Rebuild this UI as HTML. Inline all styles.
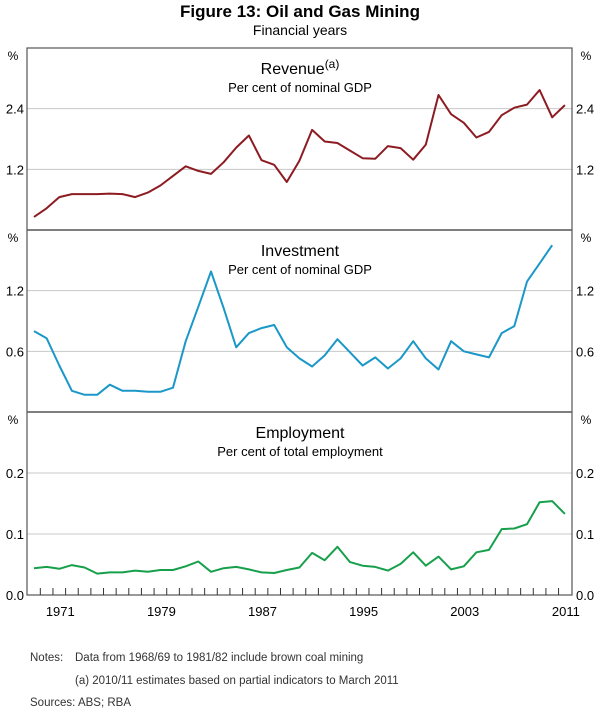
<!DOCTYPE html>
<html><head><meta charset="utf-8"><style>
body{margin:0;background:#fff;}
svg text{font-family:"Liberation Sans",sans-serif;}
</style></head><body>
<svg width="600" height="709" xmlns="http://www.w3.org/2000/svg">
<text x="300" y="17" text-anchor="middle" font-size="17" font-weight="bold">Figure 13: Oil and Gas Mining</text>
<text x="300" y="35" text-anchor="middle" font-size="14">Financial years</text>
<g id="plot"></g>
<text x="30" y="661" font-size="11.5" fill="#333">Notes:</text>
<text x="75" y="661" font-size="11.5" fill="#333">Data from 1968/69 to 1981/82 include brown coal mining</text>
<text x="75" y="684" font-size="11.5" fill="#333">(a) 2010/11 estimates based on partial indicators to March 2011</text>
<text x="30" y="706" font-size="11.5" fill="#333">Sources:  ABS; RBA</text>
</svg>
<script>
const revenue=[0.26,0.43,0.65,0.71,0.71,0.71,0.72,0.71,0.65,0.74,0.88,1.07,1.26,1.17,1.11,1.34,1.63,1.87,1.38,1.29,0.95,1.37,1.98,1.75,1.72,1.57,1.42,1.41,1.66,1.62,1.39,1.69,2.67,2.29,2.12,1.83,1.94,2.27,2.42,2.48,2.77,2.23,2.47];
const investment=[0.80,0.73,0.46,0.21,0.17,0.17,0.27,0.21,0.21,0.20,0.20,0.24,0.70,1.04,1.39,1.03,0.64,0.78,0.83,0.86,0.64,0.53,0.45,0.56,0.72,0.59,0.46,0.54,0.43,0.53,0.70,0.53,0.42,0.70,0.60,0.57,0.54,0.78,0.85,1.29,1.47,1.65];
const employment=[0.044,0.046,0.043,0.049,0.045,0.035,0.037,0.037,0.040,0.038,0.041,0.041,0.047,0.055,0.038,0.044,0.046,0.042,0.037,0.036,0.041,0.045,0.069,0.057,0.079,0.054,0.048,0.046,0.040,0.051,0.070,0.048,0.063,0.042,0.047,0.070,0.074,0.108,0.109,0.116,0.152,0.154,0.133];
const startYear=1969;
const yearLabels=[1971,1979,1987,1995,2003,2011];
const revTicks=[1.2,2.4],invTicks=[0.6,1.2],empTicks=[0.1,0.2];
const NS='http://www.w3.org/2000/svg';
const g=document.getElementById('plot');
const L=27,R=572;
function x(yr){return 34+(yr-1969)*12.64;}
function mk(t,a,txt){const e=document.createElementNS(NS,t);for(const k in a)e.setAttribute(k,a[k]);if(txt!==undefined)e.textContent=txt;g.appendChild(e);return e;}
const panels=[
 {top:48,bot:230,max:3.6,data:revenue,ticks:revTicks,col:'#8c1c22',t:'Revenue',sub:'Per cent of nominal GDP',n:'revenue',dec:1},
 {top:230,bot:412,max:1.8,data:investment,ticks:invTicks,col:'#1b98c8',t:'Investment',sub:'Per cent of nominal GDP',n:'investment',dec:1},
 {top:412,bot:595,max:0.3,data:employment,ticks:empTicks,col:'#17a04b',t:'Employment',sub:'Per cent of total employment',n:'employment',dec:1}
];
panels.forEach((p,pi)=>{
 const Y=v=>p.bot-v/p.max*(p.bot-p.top);
 p.ticks.forEach(t=>{
  let e=mk('line',{x1:L,x2:R,y1:Y(t),y2:Y(t),stroke:'#c8c8c8','stroke-width':1});
  
  
  e=mk('text',{x:24,y:Y(t)+5,'text-anchor':'end','font-size':13},t.toFixed(p.dec));
  
  
  e=mk('text',{x:576,y:Y(t)+5,'font-size':13},t.toFixed(p.dec));
  
  
 });
 let e=mk('text',{x:13,y:p.top+12,'text-anchor':'middle','font-size':12},'%');
 
 
 e=mk('text',{x:586,y:p.top+12,'text-anchor':'middle','font-size':12},'%');
 
 
 e=mk('text',{x:300,y:p.top+26,'text-anchor':'middle','font-size':16},p.t);
 if(pi===0){const s=document.createElementNS(NS,'tspan');s.setAttribute('dy','-6');s.setAttribute('font-size','12');s.textContent='(a)';e.appendChild(s);}
 
 
 e=mk('text',{x:300,y:p.top+44,'text-anchor':'middle','font-size':13},p.sub);
 
 
 const pts=p.data.map((v,i)=>x(startYear+i).toFixed(1)+','+Y(v).toFixed(1)).join(' ');
 e=mk('polyline',{points:pts,fill:'none',stroke:p.col,'stroke-width':2,'stroke-linejoin':'round'});
 
 
 if(pi<2){e=mk('line',{x1:L,x2:R,y1:p.bot,y2:p.bot,stroke:'#333','stroke-width':1.2});
 
 }
});
let e=mk('rect',{x:L,y:48,width:R-L,height:547,fill:'none',stroke:'#555','stroke-width':1.2});


for(let yr=1969;yr<2011;yr++){
 const tx=x(yr)+6.32;
 e=mk('line',{x1:tx,x2:tx,y1:595,y2:588,stroke:'#333','stroke-width':1});
 
 
}
yearLabels.forEach(yr=>{
 e=mk('text',{x:x(yr)+1,y:616,'text-anchor':'middle','font-size':13},String(yr));
 
 
});
['0.0','0.0'].forEach((t,i)=>{
 e=mk('text',{x:i?576:24,y:600,'text-anchor':i?'start':'end','font-size':13},t);
 
 
});
</script>
</body></html>
